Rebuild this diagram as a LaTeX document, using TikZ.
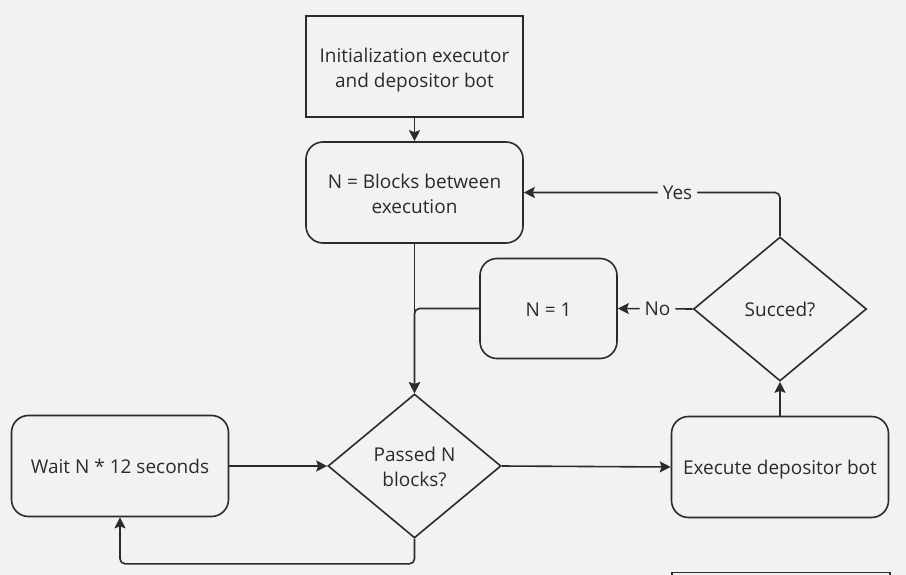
\documentclass[tikz,border=0pt]{standalone}
\usepackage{fontspec}
\setmainfont{Open Sans}
\usetikzlibrary{shapes.geometric,arrows.meta}
\definecolor{bgc}{HTML}{F2F2F2}
\definecolor{ink}{HTML}{2B2B2B}
\tikzset{
  base/.style={draw=ink, line width=1.6pt, text=ink, align=center, inner sep=0pt,
    font=\fontsize{19}{25}\selectfont, text height=15.6pt, text depth=0pt},
  two/.style={text height=41.2pt, text depth=0pt},
  sqbox/.style={base, rectangle, minimum width=217pt, minimum height=101pt},
  rbox/.style={base, rectangle, rounded corners=17pt, minimum width=217pt, minimum height=101pt},
  smallbox/.style={base, rectangle, rounded corners=17pt, minimum width=137pt, minimum height=100pt},
  decision/.style={base, diamond, minimum width=173pt, minimum height=144pt},
  conn/.style={draw=ink, line width=1.6pt, -{Stealth[length=11pt,width=11pt,inset=2pt]}, rounded corners=5pt},
  lbl/.style={fill=bgc, text=ink, inner sep=5pt, font=\fontsize{19}{22}\selectfont}
}
\begin{document}
\begin{tikzpicture}[x=1pt,y=-1pt]
\fill[bgc] (0,0) rectangle (906,575);
\useasboundingbox (0,0) rectangle (906,575);

\node[sqbox, two] (init) at (414.5,66.5) {Initialization executor\\and depositor bot};
\node[rbox, two] (nblk) at (414.5,192.5) {N = Blocks between\\execution};
\node[smallbox] (none) at (548.5,308.5) {N = 1};
\node[decision] (succ) at (780,309) {Succed?};
\node[decision, two] (pass) at (414.5,466) {Passed N\\blocks?};
\node[rbox] (wait) at (120,466) {Wait N * 12 seconds};
\node[rbox] (exec) at (780,467) {Execute depositor bot};
\begin{scope}
\clip (0,0) rectangle (906,575);
\node[sqbox, minimum width=218pt] (cut) at (781,623) {};
\end{scope}

\draw[conn] (init.south) -- (nblk.north);
\draw[conn] (nblk.south) -- (pass.north);
\draw[conn] (none.west) -| (pass.north);
\draw[conn] (wait.east) -- (pass.west);
\draw[conn] (pass.south) -- ++(0,25) -| (wait.south);
\draw[conn] (pass.east) -- (exec.west);
\draw[conn] (exec.north) -- (succ.south);
\draw[conn] (succ.north) |- (nblk.east) node[lbl, pos=0.7] {Yes};
\draw[conn] (succ.west) -- (none.east) node[lbl, pos=0.47] {No};
\end{tikzpicture}
\end{document}
